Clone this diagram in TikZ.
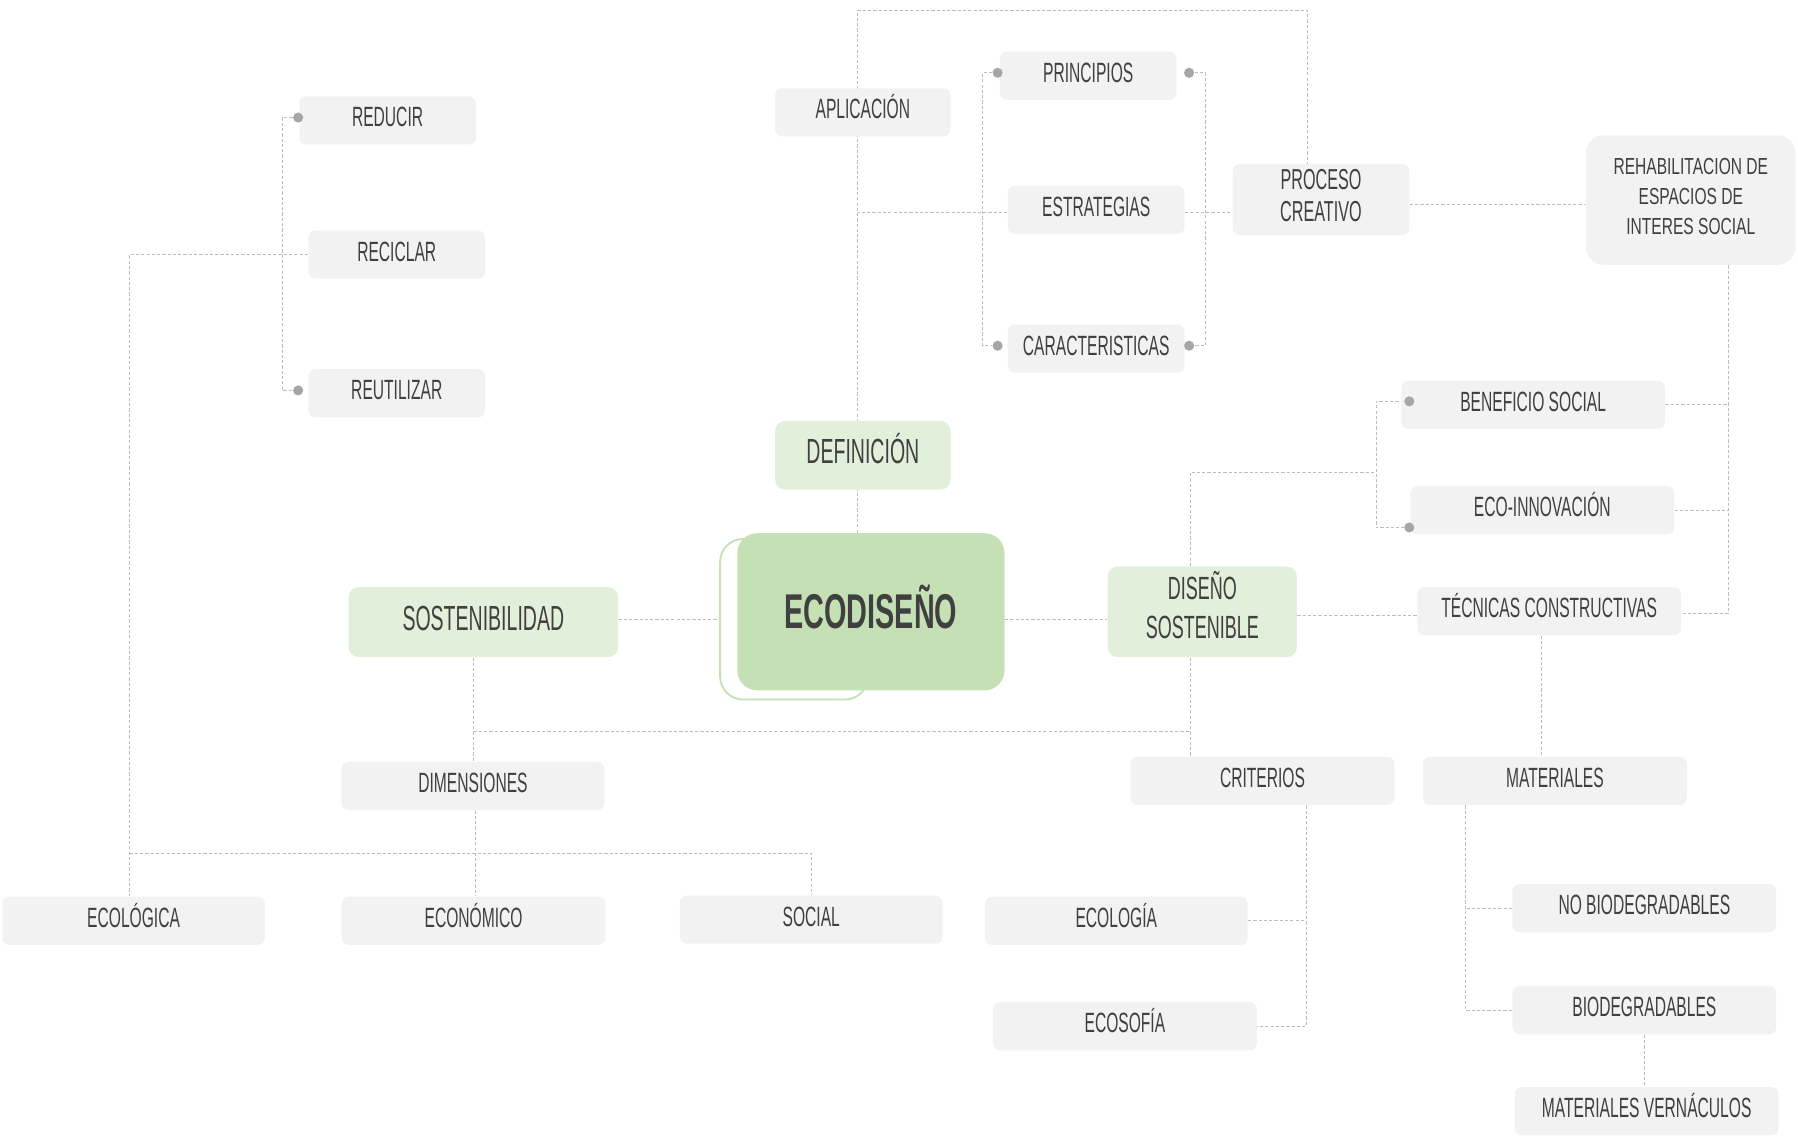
\documentclass[tikz,border=0pt]{standalone}
\usepackage{fontspec}
\setmainfont{Liberation Sans}[FakeStretch=0.56]
\newfontfamily\rehfont{Liberation Sans}[FakeStretch=0.67]
\newfontfamily\mainbold{Liberation Sans}[FakeStretch=0.59]
\usetikzlibrary{calc}
\pgfdeclarelayer{bg}
\pgfsetlayers{bg,main}
\definecolor{txt}{HTML}{404040}
\definecolor{gfill}{HTML}{F2F2F2}
\definecolor{lgreen}{HTML}{E2EFDA}
\definecolor{mgreen}{HTML}{C5E0B4}
\definecolor{lncol}{HTML}{BDBDBD}
\definecolor{dotcol}{HTML}{A6A6A6}
\tikzset{
  gbox/.style={fill=gfill, rounded corners=3pt, text=txt, inner sep=0pt,
    font=\fontsize{12.15}{14}\selectfont, text height=8.7pt, text depth=3pt,
    minimum height=21pt, minimum width=115pt},
  mbox/.style={fill=gfill, rounded corners=3pt, inner sep=0pt},
  mtext/.style={text=txt, inner sep=0pt, align=center},
  grbox/.style={fill=lgreen, rounded corners=4.4pt, text=txt, inner sep=0pt,
    font=\fontsize{15.2}{18}\selectfont, text height=10.9pt, text depth=3.6pt},
  conn/.style={draw=lncol, line width=0.45pt, dash pattern=on 1.4pt off 0.9pt},
  dotn/.style={circle, fill=dotcol, inner sep=0pt, minimum size=4.4pt},
}
\begin{document}
\begin{tikzpicture}[x=0.5pt,y=-0.5pt]
\useasboundingbox (0,0) rectangle (1568,990.7);

% boxes
\node[gbox, minimum width=77pt] (red) at (338,105) {REDUCIR};
\node[gbox, minimum width=77pt] (rec) at (346,222) {RECICLAR};
\node[gbox, minimum width=77pt] (reu) at (346,343) {REUTILIZAR};
\node[gbox, minimum width=76.5pt] (apl) at (752.5,98) {APLICACIÓN};
\node[gbox, minimum width=77pt] (pri) at (949,66) {PRINCIPIOS};
\node[gbox, minimum width=77pt] (est) at (956,183) {ESTRATEGIAS};
\node[gbox, minimum width=77pt] (car) at (956,304) {CARACTERISTICAS};
\node[mbox, minimum width=77pt, minimum height=31pt] (pro) at (1152,174) {};
\node[mtext, font=\fontsize{12.6}{13.8}\selectfont] (proT)
  at ([yshift=1.6pt]pro.center) {PROCESO\\CREATIVO};
\node[mbox, rounded corners=8pt, minimum width=91.5pt, minimum height=56.5pt]
  (reh) at (1474.5,174.5) {};
\node[mtext, font=\rehfont\fontsize{10.13}{13.1}\selectfont] (rehT)
  at ([yshift=1.6pt]reh.center) {REHABILITACION DE\\ESPACIOS DE\\INTERES SOCIAL};
\node[gbox] (ben) at (1337,353) {BENEFICIO SOCIAL};
\node[gbox] (eco) at (1345,445) {ECO-INNOVACIÓN};
\node[gbox] (tec) at (1351,533) {TÉCNICAS CONSTRUCTIVAS};
\node[grbox, minimum width=76.5pt, minimum height=30pt] (def) at (752.5,397) {DEFINICIÓN};
\node[draw=mgreen, line width=0.8pt, rounded corners=10pt, minimum width=64.5pt,
  minimum height=70pt, inner sep=0pt] (mainsh) at (692.5,540) {};
\node[fill=mgreen, rounded corners=8.7pt, text=txt, inner sep=0pt,
  minimum width=116.5pt, minimum height=68.5pt,
  font=\mainbold\bfseries\fontsize{21.3}{25}\selectfont,
  text height=15.25pt, text depth=1pt] (main) at (759.5,533.5) {ECODISEÑO};
\node[grbox, minimum width=117.5pt, minimum height=30.5pt] (sos) at (421.5,542.5) {SOSTENIBILIDAD};
\node[fill=lgreen, rounded corners=4.4pt, inner sep=0pt,
  minimum width=82.5pt, minimum height=39.5pt] (dis) at (1048.5,533.5) {};
\node[mtext, font=\fontsize{14}{17}\selectfont] (disT)
  at ([yshift=3pt]dis.center) {DISEÑO\\SOSTENIBLE};
\node[gbox, minimum width=114.5pt] (dim) at (412.5,685.5) {DIMENSIONES};
\node[gbox] (cri) at (1101,681) {CRITERIOS};
\node[gbox] (mat) at (1356,681) {MATERIALES};
\node[gbox, minimum width=114.5pt] (ecol) at (116.5,803) {ECOLÓGICA};
\node[gbox] (econ) at (413,803) {ECONÓMICO};
\node[gbox, minimum width=114.5pt] (soc) at (707.5,802) {SOCIAL};
\node[gbox, minimum width=114.5pt] (ecolg) at (973.5,803) {ECOLOGÍA};
\node[gbox] (ecos) at (981,895) {ECOSOFÍA};
\node[gbox] (nob) at (1434,792) {NO BIODEGRADABLES};
\node[gbox] (bio) at (1434,881) {BIODEGRADABLES};
\node[gbox] (ver) at (1436,969) {MATERIALES VERNÁCULOS};

% dots
\node[dotn] (dpl) at (870,63.5) {};
\node[dotn] (dcl) at (870,301.5) {};
\node[dotn] (dpr) at (1037,63.5) {};
\node[dotn] (dcr) at (1037,301.5) {};
\node[dotn] (dbs) at (1229,350) {};
\node[dotn] (dei) at (1229,460) {};
\node[dotn] (drd) at (260,102.5) {};
\node[dotn] (dru) at (260,340.5) {};

% connectors
\begin{pgfonlayer}{bg}
\coordinate (jA) at (748,9);
\coordinate (jB) at (1140,9);
\draw[conn] (main.north -| jA) -- (jA) -- (jB) -- (pro.north -| jB);
\coordinate (jS) at (0,185);
\draw[conn] (est.west |- jS) -- (jA |- jS);
\coordinate (jC) at (857,0);
\draw[conn] (dpl) -- (dpl -| jC) -- (dcl -| jC) -- (dcl);
\coordinate (jD) at (1051,0);
\draw[conn] (dpr) -- (dpr -| jD) -- (dcr -| jD) -- (dcr);
\draw[conn] (est.east |- jS) -- (pro.west |- jS);
\coordinate (jR) at (0,178);
\draw[conn] (pro.east |- jR) -- (reh.west |- jR);
\coordinate (jE) at (1507,0);
\coordinate (jT) at (0,535);
\draw[conn] (reh.south -| jE) -- (jE |- jT) -- (tec.east |- jT);
\draw[conn] (ben.east) -- (ben.east -| jE);
\draw[conn] (eco.east) -- (eco.east -| jE);
\coordinate (jG) at (1038,412);
\coordinate (jF) at (1200,0);
\draw[conn] (dis.north -| jG) -- (jG) -- (jG -| jF);
\draw[conn] (dbs) -- (dbs -| jF) -- (dei -| jF) -- (dei);
\coordinate (jU) at (0,537);
\draw[conn] (dis.east |- jU) -- (tec.west |- jU);
\coordinate (jH) at (0,540);
\draw[conn] (main.east |- jH) -- (dis.west |- jH);
\draw[conn] (sos.east |- jH) -- (mainsh.west |- jH);
\coordinate (jI) at (413,638);
\draw[conn] (sos.south -| jI) -- (dim.north -| jI);
\draw[conn] (jI) -- (jI -| jG);
\draw[conn] (dis.south -| jG) -- (cri.north -| jG);
\coordinate (jJ) at (415,744);
\draw[conn] (dim.south -| jJ) -- (econ.north -| jJ);
\coordinate (jK) at (113,744);
\draw[conn] (rec.west) -- (rec.west -| jK) -- (ecol.north -| jK);
\draw[conn] (jK) -| (soc.north);
\coordinate (jM) at (1139,0);
\draw[conn] (cri.south -| jM) -- (ecos.east -| jM) -- (ecos.east);
\draw[conn] (ecolg.east) -- (ecolg.east -| jM);
\coordinate (jN) at (1344,0);
\draw[conn] (tec.south -| jN) -- (mat.north -| jN);
\coordinate (jO) at (1278,0);
\draw[conn] (mat.south -| jO) -- (bio.west -| jO) -- (bio.west);
\draw[conn] (nob.west) -- (nob.west -| jO);
\draw[conn] (bio.south) -- (bio.south |- ver.north);
\coordinate (jP) at (246,0);
\draw[conn] (drd) -- (drd -| jP) -- (dru -| jP) -- (dru);
\end{pgfonlayer}
\end{tikzpicture}
\end{document}
